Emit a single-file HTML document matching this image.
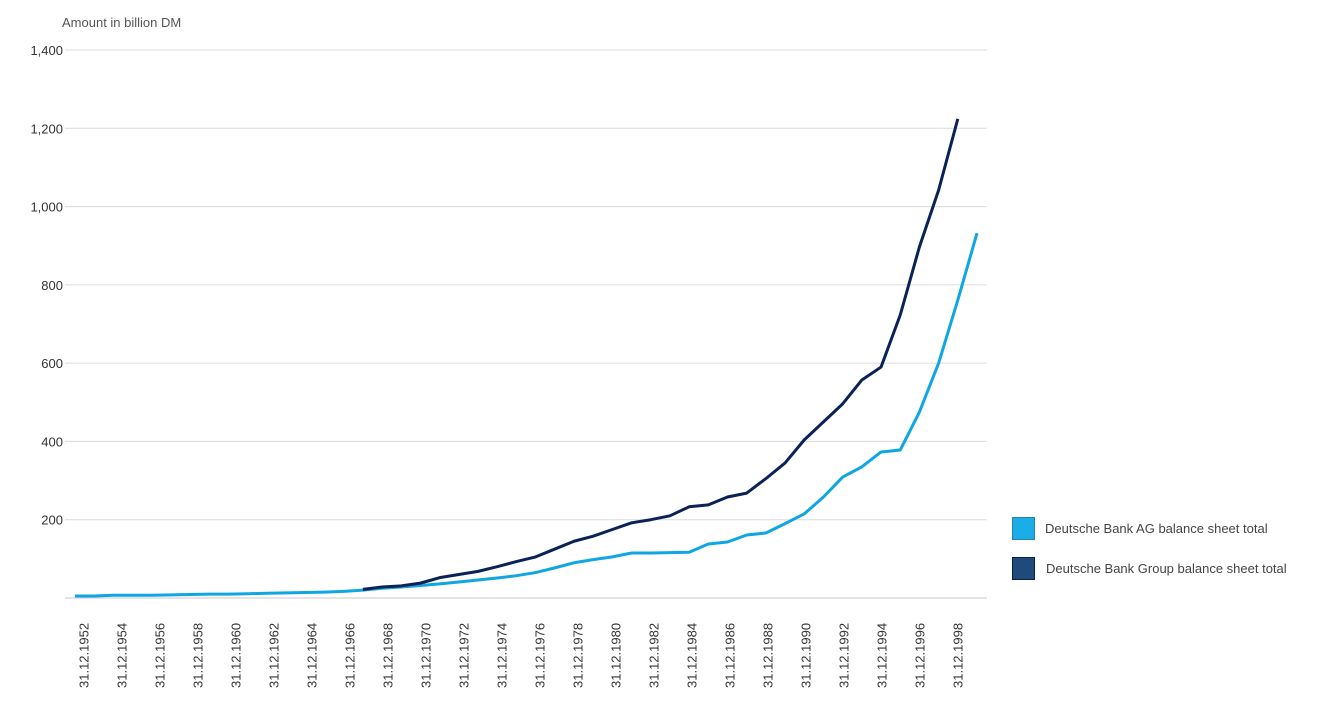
<!DOCTYPE html>
<html><head><meta charset="utf-8"><style>
body{margin:0;background:#fff;width:1323px;height:710px;overflow:hidden;font-family:"Liberation Sans",Arial,sans-serif}
svg text{font-family:"Liberation Sans",Arial,sans-serif}
</style></head><body>
<svg id="chart" width="1323" height="710" xmlns="http://www.w3.org/2000/svg">
<text x="62" y="27" font-size="13" fill="#555">Amount in billion DM</text>
<g id="grid"></g><g id="yl"></g><g id="xl"></g><g id="lines"></g>
<g>
<rect x="1012.5" y="517.5" width="22" height="22" fill="#19aee6" stroke="#2b7fae"/>
<text x="1045" y="533" font-size="13" fill="#444">Deutsche Bank AG balance sheet total</text>
<rect x="1012.5" y="557.5" width="22" height="22" fill="#1f4a7c" stroke="#0b1d48"/>
<text x="1046" y="573" font-size="13" fill="#444">Deutsche Bank Group balance sheet total</text>
</g>
</svg>
<script>
const years=[];for(let y=1952;y<=1999;y++)years.push(y);
const agValues=[5,5,7,7,7,8,9,10,10,11,12,13,14,15,17,20,25,28,32,36,41,46,51,57,65,77,90,98,105,115,115,116,117,138,143,161,166,190,215,258,309,335,373,378,475,600,761,932];
const groupStartYear=1967;
const groupValues=[22,28,31,38,52,60,68,80,93,105,125,145,158,175,192,200,210,233,238,258,268,305,345,404,450,496,557,590,723,897,1042,1224];
const yTicks=[0,200,400,600,800,1000,1200,1400];
const yTickLabels=["","200","400","600","800","1,000","1,200","1,400"];
const NS="http://www.w3.org/2000/svg";
const x=i=>75+i*(977-75)/(years.length-1);
const xl=i=>84+i*(958-84)/46;
const y=v=>598-v*(548/1400);
function mk(t,a,p){const e=document.createElementNS(NS,t);for(const k in a)e.setAttribute(k,a[k]);document.getElementById(p).appendChild(e);return e;}
yTicks.forEach((t,i)=>{
 const l=mk('line',{x1:65,x2:987,y1:y(t),y2:y(t),stroke:i==0?'#c8c8c8':'#dcdcdc','stroke-width':1},'grid');
 
 
 const tx=mk('text',{x:63,y:y(t)+5,'text-anchor':'end','font-size':13,fill:'#333'},'yl');
 tx.textContent=yTickLabels[i];
 
 
});
years.forEach((yr,i)=>{
 if(yr%2)return;
 const px=xl(i),py=688;
 const tx=mk('text',{x:px,y:py,'font-size':13,fill:'#333',transform:`rotate(-90 ${px} ${py})`,'dominant-baseline':'central'},'xl');
 tx.textContent='31.12.'+yr;
 
 
});
const ag=mk('polyline',{points:agValues.map((v,i)=>x(i)+','+y(v)).join(' '),fill:'none',stroke:'#0fa6e2','stroke-width':3,'stroke-linejoin':'round'},'lines');


const off=years.indexOf(groupStartYear);
const gr=mk('polyline',{points:groupValues.map((v,i)=>x(i+off)+','+y(v)).join(' '),fill:'none',stroke:'#0b2257','stroke-width':3,'stroke-linejoin':'round'},'lines');


</script>
</body></html>
